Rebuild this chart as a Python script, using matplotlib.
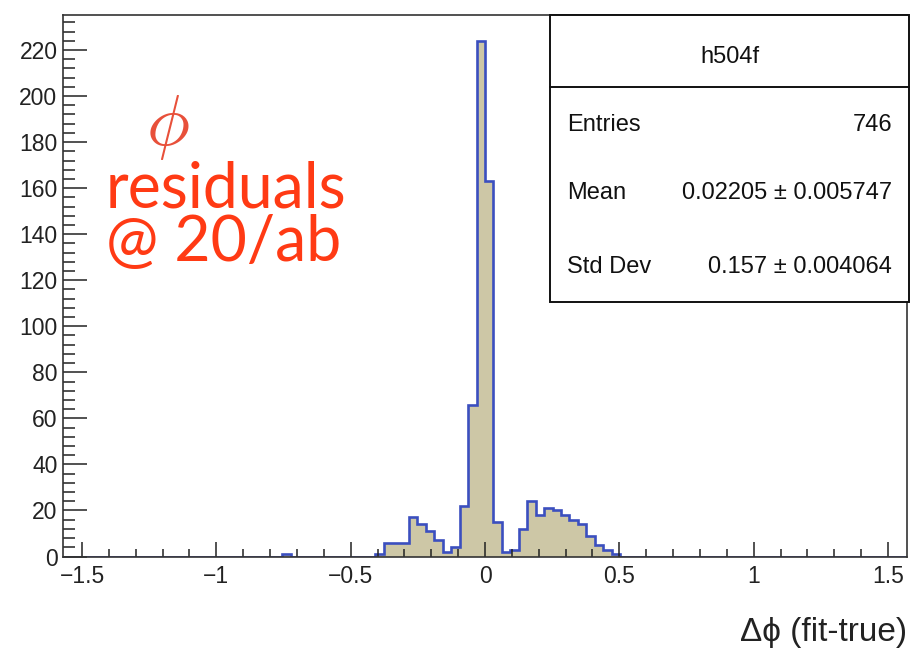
import numpy as np
from matplotlib import pyplot as plt
from matplotlib.patches import Rectangle
from matplotlib.ticker import MultipleLocator, FixedLocator

# histogram h504f : 100 bins over [-pi/2, pi/2]
n_bins = 100
x_lo, x_hi = -np.pi/2, np.pi/2

# non-empty bins (index counted from the bin starting at 0)
bin_offset = [-24, -13, -12, -11, -10, -9, -8, -7, -6, -5, -4, -3, -2, -1,
              0, 1, 2, 3, 4, 5, 6, 7, 8, 9, 10, 11, 12, 13, 14, 15]
bin_count  = [1, 1, 6, 6, 6, 17, 14, 11, 7, 2, 4, 22, 66, 224,
              163, 15, 2, 3, 12, 24, 18, 21, 20, 18, 16, 14, 9, 5, 3, 1]

stat_names  = ["Entries", "Mean", "Std Dev"]
stat_values = ["746", "0.02205 \u00b1 0.005747", "0.157 \u00b1 0.004064"]
hist_name = "h504f"

x_ticks = [-1.5, -1, -0.5, 0, 0.5, 1, 1.5]
x_tick_labels = ["\u22121.5", "\u22121", "\u22120.5", "0", "0.5", "1", "1.5"]

edges = np.linspace(x_lo, x_hi, n_bins + 1)
counts = np.zeros(n_bins)
for k, c in zip(bin_offset, bin_count):
    counts[n_bins//2 + k] = c

plt.rcParams['font.family'] = ['Liberation Sans', 'DejaVu Sans']
plt.rcParams['mathtext.fontset'] = 'cm'

W, H = 914, 650
fig = plt.figure(figsize=(W/100, H/100), dpi=100)
# frame in pixels: x 63..907, y 15..556.5
ax = fig.add_axes([63/W, (H-556.5)/H, (907-63)/W, (556.5-15)/H])

ax.stairs(counts, edges, fill=True, color='#cdc7a6', zorder=1)
ax.stairs(counts, edges, color='#3b4fbf', linewidth=1.9, zorder=1.5)

ax.set_xlim(x_lo, x_hi)
ax.set_ylim(0, 1.05*max(bin_count))

ax.xaxis.set_major_locator(FixedLocator(x_ticks))
ax.set_xticklabels(x_tick_labels)
ax.xaxis.set_minor_locator(MultipleLocator(0.1))
ax.yaxis.set_major_locator(MultipleLocator(20))
ax.yaxis.set_minor_locator(MultipleLocator(4))

ax.tick_params(axis='x', which='major', direction='in', length=11, width=1.1,
               labelsize=16.5, pad=6, top=False, colors='#222222')
ax.tick_params(axis='x', which='minor', direction='in', length=5.5, width=1.1,
               top=False, color='#222222')
ax.tick_params(axis='y', which='major', direction='in', length=17, width=1.1,
               labelsize=16.5, pad=4, right=False, colors='#222222')
ax.tick_params(axis='y', which='minor', direction='in', length=8.5, width=1.1,
               right=False, color='#222222')
for s in ax.spines.values():
    s.set_color('#333333')
    s.set_linewidth(1.2)
    s.set_zorder(3)

fig.text(907/W, 1-632/H, "\u0394\u03d5 (fit-true)", ha='right', va='center',
         fontsize=24, color='#222222')

# stats box
bx0, bx1, by0, by1 = 550, 909, 15, 302
fig.add_artist(Rectangle((bx0/W, 1-by1/H), (bx1-bx0)/W, (by1-by0)/H,
                         transform=fig.transFigure, facecolor='white',
                         edgecolor='#111111', linewidth=1.4, zorder=5))
fig.add_artist(plt.Line2D([bx0/W, bx1/W], [1-87/H, 1-87/H],
                          transform=fig.transFigure, color='#111111',
                          linewidth=1.4, zorder=6))
fig.text((bx0+bx1)/2/W, 1-57/H, hist_name, ha='center', va='center',
         fontsize=17, color='#111111', zorder=7)
for i, (nm, val) in enumerate(zip(stat_names, stat_values)):
    y = 1 - [125, 193, 267][i]/H
    fig.text(567/W, y, nm, ha='left', va='center', fontsize=17,
             color='#111111', zorder=7)
    fig.text(892/W, y, val, ha='right', va='center', fontsize=17,
             color='#111111', zorder=7)

# red annotation
fig.text(168/W, 1-128/H, r"$\phi$", ha='center', va='center',
         fontsize=52, color='#e8503a')
fig.text(106/W, 1-189/H, "residuals", ha='left', va='center',
         fontsize=45, color='#ff3a14', family=['Lato', 'DejaVu Sans'])
fig.text(106/W, 1-243/H, "@ 20/ab", ha='left', va='center',
         fontsize=45, color='#ff3a14', family=['Lato', 'DejaVu Sans'])

fig.savefig("out.png", dpi=100)
